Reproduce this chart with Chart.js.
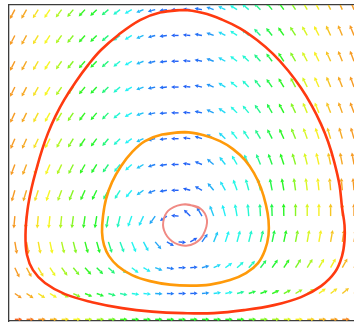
<!DOCTYPE html>
<html>
<head>
<meta charset="utf-8">
<script src="https://cdn.jsdelivr.net/npm/chart.js@4/dist/chart.umd.min.js"></script>
<style>
html, body { margin: 0; padding: 0; background: #fff; }
#wrap { width: 354px; height: 322px; }
</style>
</head>
<body>
<div id="wrap"><canvas id="phaseChart" width="354" height="322"></canvas></div>
<script>
// direction field grid (tail positions), rows listed top to bottom
var fieldX = [1, 3, 5, 7, 9, 11, 13, 15, 17, 19, 21, 23, 25, 27, 29, 31, 33, 35, 37, 39, 41, 43, 45, 47, 49, 51, 53, 55, 57, 59];
var fieldY = [24, 22, 20, 18, 16, 14, 12, 10, 8, 6, 4, 2, 0];

// arrow direction in degrees (0 = right, 90 = up)
var fieldAngle = [
    [-118,-120,-122,-124,-127,-130,-133,-136,-140,-143,-150,-158,-165,-172,180,175,170,160,155,148,140,135,130,126,123,120,118,116,114,113],
    [-117,-119,-121,-123,-126,-129,-132,-135,-139,-142,-149,-157,-165,-172,180,175,169,160,153,146,139,134,129,125,122,119,117,115,113,112],
    [-117,-118,-120,-122,-125,-128,-131,-134,-138,-141,-150,-158,-166,-173,180,174,168,159,151,143,137,132,127,123,120,118,116,114,112,111],
    [-116,-117,-119,-121,-124,-127,-130,-133,-137,-140,-150,-159,-167,-174,180,174,167,157,148,140,134,129,125,121,118,116,114,112,111,110],
    [-115,-116,-117,-119,-121,-124,-127,-130,-134,-140,-150,-161,-169,-175,180,175,167,155,145,135,130,125,120,118,115,113,112,111,110,110],
    [-113,-114,-115,-117,-119,-121,-124,-127,-130,-135,-145,-156,-166,-174,180,172,162,148,137,128,124,120,117,114,112,110,108,107,106,106],
    [-110,-111,-112,-113,-115,-117,-119,-122,-125,-129,-138,-150,-162,-172,180,170,157,140,128,120,115,112,110,108,106,104,103,102,101,100],
    [-106,-107,-108,-109,-110,-112,-114,-116,-119,-122,-130,-145,-158,-170,180,165,150,130,120,110,105,103,101,100,98,97,96,95,95,95],
    [-95,-95,-95,-96,-96,-97,-98,-99,-100,-103,-110,-115,-125,-145,175,135,120,110,105,100,95,93,92,91,90,90,90,90,90,90],
    [-80,-80,-79,-78,-77,-76,-75,-74,-72,-70,-68,-62,-50,-30,-5,30,55,68,72,75,76,77,78,78,79,80,80,80,81,81],
    [-65,-62,-60,-57,-54,-51,-48,-45,-42,-40,-38,-30,-20,-10,0,5,15,25,35,42,48,52,55,57,58,59,60,61,61,62],
    [-35,-34,-33,-31,-29,-26,-23,-20,-16,-12,-8,-5,-3,-1,0,2,5,8,12,15,18,21,24,27,30,33,36,38,40,42],
    [0,0,0,0,0,0,0,0,0,0,0,0,0,0,0,0,0,0,0,0,0,0,0,0,0,0,0,0,0,0]
];

// colour level of each arrow (0 = slow / blue ... 100 = fast / red)
var fieldLevel = [
    [88,86,78,75,68,64,57,55,47,38,33,22,10,5,3,3,6,15,28,36,38,45,52,56,64,72,76,82,86,88],
    [88,86,78,75,68,64,57,55,47,38,33,22,10,5,3,3,6,15,28,36,38,45,52,56,64,72,76,82,86,88],
    [88,86,78,75,68,64,57,55,47,38,33,22,10,5,3,3,6,15,28,36,38,45,52,56,64,72,76,82,86,88],
    [88,86,78,75,68,64,57,55,47,38,33,22,10,5,3,3,6,15,28,36,38,45,52,56,64,72,76,82,86,88],
    [88,86,78,75,68,64,57,55,47,38,33,24,10,5,3,3,6,17,28,36,38,45,52,56,64,72,76,82,86,88],
    [88,86,78,75,68,64,57,55,47,38,33,24,10,5,3,3,6,17,28,36,38,45,52,56,64,72,76,82,86,88],
    [88,86,78,75,68,64,57,55,47,38,33,24,10,5,3,3,6,17,28,36,38,45,52,56,64,72,76,82,86,88],
    [88,86,78,75,68,64,57,55,47,38,33,24,10,5,3,3,6,20,30,36,38,45,52,56,64,72,76,82,86,88],
    [88,86,78,75,68,64,57,55,47,40,35,30,18,6,3,3,8,25,32,36,38,45,52,56,64,72,76,82,86,88],
    [88,86,78,75,68,64,57,55,47,40,35,30,18,6,3,3,10,25,33,36,38,45,52,56,64,72,76,82,86,88],
    [88,85,78,74,67,63,57,53,47,42,36,32,22,8,5,5,15,28,33,37,40,50,54,57,63,67,73,76,84,87],
    [88,85,78,75,68,64,57,54,47,42,36,32,20,8,5,5,15,30,35,43,52,55,57,62,66,70,76,78,82,86],
    [95,92,88,84,78,75,70,66,62,58,56,55,55,55,55,55,55,55,56,57,60,64,67,72,76,80,84,87,90,93]
];

// closed trajectories
var redOrbitX = [29.76, 25.83, 22.40, 18.64, 15.73, 13.51, 11.37, 9.41, 7.95, 6.67, 5.64, 4.79, 3.85, 3.16, 2.82, 3.08, 4.10, 6.16, 9.58, 14.20, 19.33, 24.46, 29.76, 35.06, 40.19, 45.32, 49.94, 53.36, 55.76, 56.95, 57.38, 57.38, 56.95, 56.52, 55.58, 54.56, 53.36, 51.82, 49.94, 47.72, 45.15, 42.41, 39.51, 36.43, 33.18];
var redOrbitY = [23.97, 23.78, 23.19, 22.02, 20.87, 19.70, 18.38, 16.99, 15.75, 14.43, 13.12, 11.80, 10.16, 8.47, 6.53, 4.98, 3.81, 2.81, 1.95, 1.33, 0.87, 0.60, 0.48, 0.48, 0.71, 1.10, 1.72, 2.57, 3.66, 4.90, 6.12, 7.29, 8.67, 10.40, 12.26, 13.78, 15.13, 16.53, 17.92, 19.28, 20.57, 21.64, 22.55, 23.23, 23.74];

var orangeOrbitX = [30.10, 26.17, 23.26, 21.04, 19.15, 17.62, 16.59, 16.08, 15.91, 16.25, 17.10, 18.64, 21.04, 24.11, 27.54, 30.96, 34.38, 37.80, 40.53, 42.59, 43.78, 44.38, 44.38, 43.95, 43.10, 41.90, 40.36, 38.31, 36.09, 33.18];
var orangeOrbitY = [14.51, 14.32, 13.81, 12.96, 11.87, 10.63, 9.32, 8.00, 6.76, 5.75, 4.90, 4.12, 3.43, 2.96, 2.69, 2.61, 2.69, 3.04, 3.58, 4.36, 5.37, 6.53, 7.69, 8.85, 10.17, 11.33, 12.34, 13.19, 13.81, 14.28];

var pinkOrbitX = [30.10, 32.67, 33.86, 33.18, 31.81, 30.10, 27.88, 26.51, 26.51, 27.54];
var pinkOrbitY = [8.92, 8.61, 7.68, 6.52, 5.90, 5.70, 6.05, 6.90, 7.84, 8.53];

var hueStops = [[0, 226], [20, 200], [35, 178], [55, 122], [65, 88], [75, 60], [88, 34], [100, 8]];

function levelColor(v) {
    for (var i = 1; i < hueStops.length; i++) {
        if (v <= hueStops[i][0]) {
            var t = (v - hueStops[i - 1][0]) / (hueStops[i][0] - hueStops[i - 1][0]);
            var h = hueStops[i - 1][1] + t * (hueStops[i][1] - hueStops[i - 1][1]);
            return 'hsl(' + h.toFixed(1) + ',92%,55%)';
        }
    }
    return 'hsl(8,92%,55%)';
}

function closedLoop(xs, ys) {
    var pts = xs.map(function (x, i) { return { x: x, y: ys[i] }; });
    pts.push(pts[0]);
    pts.push(pts[1]);
    return pts;
}

var fieldPoints = [];
fieldY.forEach(function (y, r) {
    fieldX.forEach(function (x, c) {
        fieldPoints.push({ x: x, y: y, angle: fieldAngle[r][c], level: fieldLevel[r][c] });
    });
});

// draws the quiver arrows at the points the scatter dataset was laid out at
var quiverPlugin = {
    id: 'quiver',
    beforeDatasetsDraw: function (chart) {
        var meta = chart.getDatasetMeta(0);
        var pts = chart.data.datasets[0].data;
        var ctx = chart.ctx;
        var area = chart.chartArea;
        ctx.save();
        ctx.beginPath();
        ctx.rect(area.left, area.top, area.right - area.left, area.bottom - area.top);
        ctx.clip();
        ctx.lineWidth = 1.4;
        ctx.lineCap = 'butt';
        meta.data.forEach(function (el, i) {
            var d = pts[i];
            var a = d.angle * Math.PI / 180;
            var c = Math.cos(a), s = Math.sin(a);
            var len = 1 / Math.sqrt(Math.pow(c / 7.5, 2) + Math.pow(s / 12.5, 2));
            var headLen = 3.6, headW = 1.9;
            var tx = el.x + c * len, ty = el.y - s * len;
            var bx = el.x + c * (len - headLen), by = el.y - s * (len - headLen);
            var col = levelColor(d.level);
            ctx.strokeStyle = col;
            ctx.fillStyle = col;
            ctx.beginPath();
            ctx.moveTo(el.x, el.y);
            ctx.lineTo(bx, by);
            ctx.stroke();
            ctx.beginPath();
            ctx.moveTo(tx, ty);
            ctx.lineTo(bx - s * headW, by - c * headW);
            ctx.lineTo(bx + s * headW, by + c * headW);
            ctx.closePath();
            ctx.fill();
        });
        ctx.restore();
    }
};

var axisStyle = {
    display: true,
    ticks: { display: false },
    grid: { display: false, drawTicks: false },
    border: { display: true, color: '#3c3c3c', width: 1.3 }
};

var ctx = document.getElementById('phaseChart').getContext('2d');
var phaseChart = new Chart(ctx, {
    type: 'scatter',
    data: {
        datasets: [{
            label: 'field',
            data: fieldPoints,
            pointRadius: 0,
            pointHoverRadius: 0,
            order: 10
        }, {
            label: 'orbit 1',
            data: closedLoop(pinkOrbitX, pinkOrbitY),
            showLine: true,
            borderColor: '#f08a84',
            borderWidth: 2,
            pointRadius: 0,
            tension: 0.4,
            order: 3
        }, {
            label: 'orbit 2',
            data: closedLoop(orangeOrbitX, orangeOrbitY),
            showLine: true,
            borderColor: '#ff9a0a',
            borderWidth: 2.6,
            pointRadius: 0,
            tension: 0.4,
            order: 2
        }, {
            label: 'orbit 3',
            data: closedLoop(redOrbitX, redOrbitY),
            showLine: true,
            borderColor: '#ff3a10',
            borderWidth: 2.6,
            pointRadius: 0,
            tension: 0.4,
            order: 1
        }]
    },
    options: {
        responsive: false,
        animation: false,
        devicePixelRatio: 1,
        events: [],
        layout: { padding: { left: 9, top: 5, right: 0, bottom: 1 } },
        plugins: { legend: { display: false }, tooltip: { enabled: false } },
        scales: {
            x: Object.assign({ type: 'linear', position: 'bottom', min: 0, max: 59 }, axisStyle),
            xTop: Object.assign({ type: 'linear', position: 'top', min: 0, max: 59 }, axisStyle),
            y: Object.assign({ type: 'linear', position: 'left', min: -0.13, max: 24.36 }, axisStyle)
        }
    },
    plugins: [quiverPlugin]
});
</script>
</body>
</html>
